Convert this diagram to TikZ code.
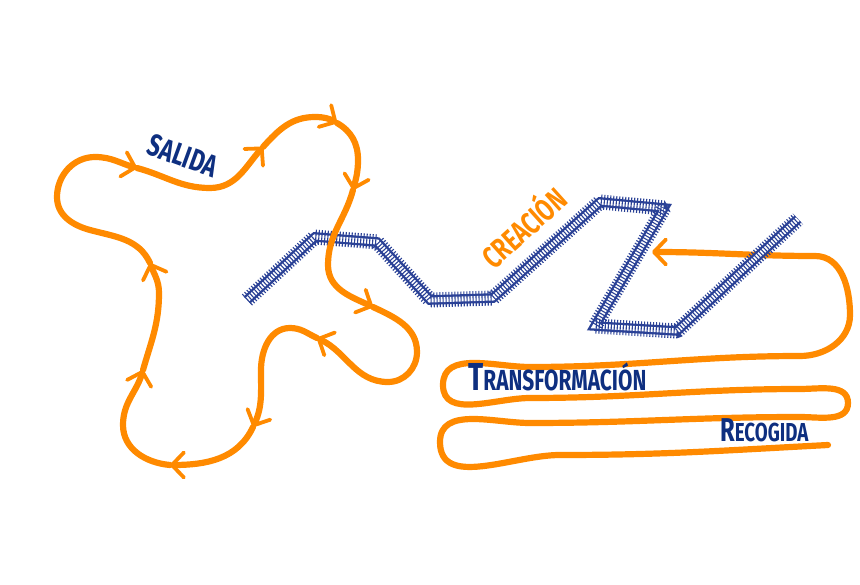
\documentclass[tikz,border=0pt]{standalone}
\usepackage{fontspec}
\newfontfamily\tagfont[FakeStretch=0.72]{Fira Sans}
\usepackage{xcolor}
\usepackage{tikz}
\usetikzlibrary{arrows.meta}
\definecolor{flowor}{HTML}{FF8A00}
\definecolor{trackblue}{HTML}{2A4196}
\definecolor{inkblue}{HTML}{0E2F80}

\begin{document}
\begin{tikzpicture}[
  x=1pt, y=-1pt,
  flow/.style={draw=flowor, line width=6.2pt, line cap=round, line join=round},
  arr/.style={flow, -{Straight Barb[length=12pt, width=25pt, line width=3.8pt, round]}},
  rails/.style={draw=trackblue, line width=2.3pt, double=white, double distance=5pt, line join=miter},
  ties/.style={draw=trackblue, line width=15pt, line join=bevel, dash pattern=on 1.1pt off 1.9pt},
  tag/.style={font=\tagfont\bfseries, text=inkblue, inner sep=0pt},
]
\useasboundingbox (0,0) rectangle (860,585);

% --- arrow points of the left loop ---
\coordinate (a1) at (137,168);
\coordinate (a2) at (263,147);
\coordinate (a3) at (337,123);
\coordinate (a4) at (353,190);
\coordinate (a5) at (373,307);
\coordinate (a6) at (317,338);
\coordinate (a7) at (253,427);
\coordinate (a8) at (170,465);
\coordinate (a9) at (143,370);
\coordinate (a10) at (150,263);

% --- track corners ---
\coordinate (t1) at (247,300);
\coordinate (t2) at (315,237);
\coordinate (t3) at (377,242);
\coordinate (t4) at (430,300);
\coordinate (t5) at (493,298);
\coordinate (t6) at (600,202);
\coordinate (t7) at (664,208);
\coordinate (t8) at (595,326);
\coordinate (t9) at (677,331);
\coordinate (t10) at (798,219);

% --- right winding line (under the track) ---
\coordinate (r0) at (828,445);
\coordinate (r1) at (652,252);
\draw[arr] (r0) to[out=183, in=0] (560,455) to[out=180, in=-90] (440,442)
  to[out=90, in=180] (530,423) to[out=0, in=180] (800,417)
  to[out=0, in=-90] (848,403) to[out=90, in=0] (800,389)
  to[out=180, in=0] (530,398) to[out=180, in=-90] (443,385)
  to[out=90, in=180] (530,367) to[out=0, in=180] (800,356)
  to[out=0, in=-90] (850,315) to[out=90, in=0] (815,256)
  to[out=180, in=0] (r1);

% --- track ---
\draw[rails] (t1) -- (t2) -- (t3) -- (t4) -- (t5) -- (t6) -- (t7) -- (t8) -- (t9) -- (t10);
\draw[ties] (t1) -- (t2) -- (t3) -- (t4) -- (t5) -- (t6) -- (t7) -- (t8) -- (t9) -- (t10);

% --- left loop ---
\draw[arr] (a1) to[out=-15, in=180] (210,188) to[out=0, in=228] (a2);
\draw[arr] (a2) to[out=48, in=180] (315,117) to[out=0, in=150] (a3);
\draw[arr] (a3) to[out=-30, in=90] (358,160) to[out=-90, in=75] (a4);
\draw[arr] (a4) to[out=-105, in=90] (328,265) to[out=-90, in=155] (a5);
\draw[arr] (a5) to[out=-25, in=90] (417,352) to[out=-90, in=0] (388,382) to[out=180, in=-25] (a6);
\draw[arr] (a6) to[out=155, in=0] (290,328) to[out=180, in=90] (261,370) to[out=-90, in=65] (a7);
\draw[arr] (a7) to[out=-115, in=0] (a8);
\draw[arr] (a8) to[out=175, in=-90] (123,425) to[out=90, in=-106] (a9);
\draw[arr] (a9) to[out=74, in=-90] (159,293) to[out=90, in=-70] (a10);
\draw[arr] (a10) to[out=115, in=-15] (90,230) to[out=165, in=-90] (57,197)
  to[out=90, in=180] (95,157) to[out=0, in=165] (a1);

% --- labels ---
\node[tag, rotate=-20, font=\tagfont\bfseries\fontsize{31}{31}\selectfont] (salida) at (183,156) {SALIDA};
\node[tag, rotate=42, text=flowor, font=\tagfont\bfseries\fontsize{31}{31}\selectfont] (creacion) at (522,226) {CREACIÓN};
\node[tag, anchor=base west] (transf) at (468,391)
  {{\fontsize{39}{39}\selectfont T}{\fontsize{29}{29}\selectfont RANSFORMACIÓN}};
\node[tag, anchor=base west] (recog) at (720,442)
  {{\fontsize{33}{33}\selectfont R}{\fontsize{26}{26}\selectfont ECOGIDA}};
\end{tikzpicture}
\end{document}
